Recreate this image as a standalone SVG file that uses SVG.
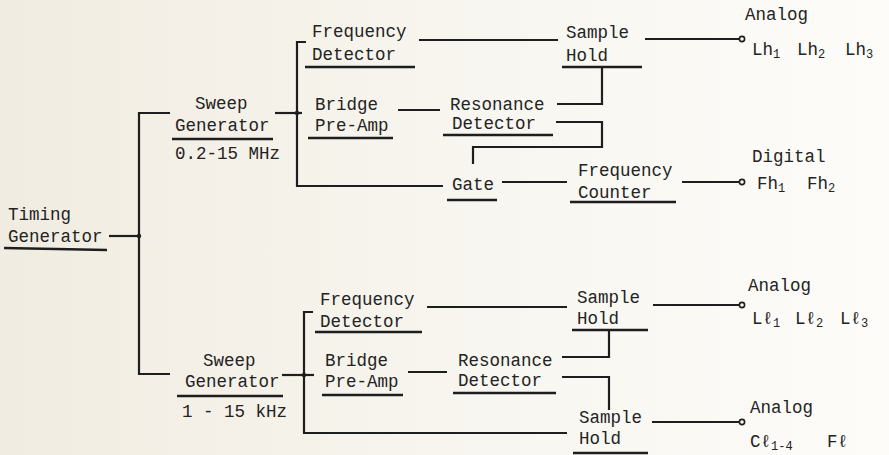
<svg xmlns="http://www.w3.org/2000/svg" width="889" height="455" viewBox="0 0 889 455">
<defs>
<linearGradient id="bg" x1="0" y1="0" x2="1" y2="0">
<stop offset="0" stop-color="#f1ece1"/>
<stop offset="0.55" stop-color="#f8f6f0"/>
<stop offset="1" stop-color="#fdfcf9"/>
</linearGradient>
<style>
text{font-family:"Liberation Mono","DejaVu Sans Mono",monospace;font-size:17.5px;fill:#232323}
.sub{font-size:12px}
.ln{stroke:#1e1e1e;stroke-width:2.2;fill:none;stroke-linecap:butt}
.ul{stroke:#1e1e1e;stroke-width:2.4;fill:none}
.dot{fill:#1e1e1e}
.term{fill:#fbfaf6;stroke:#1e1e1e;stroke-width:1.6}
</style>
</defs>
<rect width="889" height="455" fill="url(#bg)"/>

<g id="connectors">
<path class="ln" d="M109,236 H139"/>
<path class="ln" d="M170,113 H139 V374 H170"/>
<circle class="dot" cx="139" cy="236" r="2.2"/>
<path class="ln" d="M275,113 H302"/>
<path class="ln" d="M306,42 H297 V186 H443"/>
<circle class="dot" cx="297" cy="113" r="2.2"/>
<path class="ln" d="M419,40 H558"/>
<path class="ln" d="M398,110 H440"/>
<path class="ln" d="M557,104 H602 V67"/>
<path class="ln" d="M556,122 H602 V147 H473 V164"/>
<path class="ln" d="M502,182 H567"/>
<path class="ln" d="M645,39 H740"/>
<circle class="term" cx="742" cy="39" r="2.6"/>
<path class="ln" d="M682,182 H740"/>
<circle class="term" cx="742" cy="182" r="2.6"/>
<path class="ln" d="M282,375 H314"/>
<path class="ln" d="M313,312 H304 V433 H567"/>
<circle class="dot" cx="304" cy="375" r="2.2"/>
<path class="ln" d="M427,307 H567"/>
<path class="ln" d="M408,372 H447"/>
<path class="ln" d="M562,357 H609 V330"/>
<path class="ln" d="M562,377 H609 V410"/>
<path class="ln" d="M653,305 H740"/>
<circle class="term" cx="742" cy="305" r="2.6"/>
<path class="ln" d="M652,422 H740"/>
<circle class="term" cx="742" cy="422" r="2.6"/>
</g>

<g id="timing-generator">
<text x="8" y="220">Timing</text>
<text x="8" y="242">Generator</text>
<path class="ul" d="M4,248 L107,250"/>
</g>

<g id="sweep-generator-mhz">
<text x="195" y="109">Sweep</text>
<text x="175" y="131">Generator</text>
<path class="ul" d="M172,139 H273"/>
<text x="175" y="159">0.2-15 MHz</text>
</g>

<g id="frequency-detector-1">
<text x="312" y="37">Frequency</text>
<text x="312" y="60">Detector</text>
<path class="ul" d="M305,67 H415"/>
</g>

<g id="bridge-preamp-1">
<text x="315" y="110">Bridge</text>
<text x="315" y="131">Pre-Amp</text>
<path class="ul" d="M308,138 H393"/>
</g>

<g id="resonance-detector-1">
<text x="450" y="110">Resonance</text>
<text x="452" y="129">Detector</text>
<path class="ul" d="M443,135 H553"/>
</g>

<g id="sample-hold-1">
<text x="566" y="38">Sample</text>
<text x="566" y="61">Hold</text>
<path class="ul" d="M562,67 H642"/>
</g>

<g id="gate">
<text x="452" y="190">Gate</text>
<path class="ul" d="M447,200 H497"/>
</g>

<g id="frequency-counter">
<text x="578" y="176">Frequency</text>
<text x="578" y="198">Counter</text>
<path class="ul" d="M570,202 H676"/>
</g>

<g id="output-lh">
<text x="745" y="20">Analog</text>
<text x="752" y="55">Lh<tspan class="sub" dy="3">1</tspan><tspan x="797" dy="-3">Lh</tspan><tspan class="sub" dy="3">2</tspan><tspan x="845" dy="-3">Lh</tspan><tspan class="sub" dy="3">3</tspan></text>
</g>

<g id="output-fh">
<text x="752" y="162">Digital</text>
<text x="757" y="189">Fh<tspan class="sub" dy="3">1</tspan><tspan x="807" dy="-3">Fh</tspan><tspan class="sub" dy="3">2</tspan></text>
</g>

<g id="sweep-generator-khz">
<text x="203" y="366">Sweep</text>
<text x="185" y="387">Generator</text>
<path class="ul" d="M177,396 H283"/>
<text x="182" y="417">1 - 15 kHz</text>
</g>

<g id="frequency-detector-2">
<text x="320" y="305">Frequency</text>
<text x="320" y="327">Detector</text>
<path class="ul" d="M315,332 H422"/>
</g>

<g id="bridge-preamp-2">
<text x="325" y="366">Bridge</text>
<text x="325" y="387">Pre-Amp</text>
<path class="ul" d="M322,395 H403"/>
</g>

<g id="resonance-detector-2">
<text x="458" y="366">Resonance</text>
<text x="458" y="386">Detector</text>
<path class="ul" d="M453,393 H556"/>
</g>

<g id="sample-hold-2">
<text x="577" y="303">Sample</text>
<text x="577" y="324">Hold</text>
<path class="ul" d="M572,330 H648"/>
</g>

<g id="sample-hold-3">
<text x="579" y="423">Sample</text>
<text x="579" y="444">Hold</text>
<path class="ul" d="M573,453 H648"/>
</g>

<g id="output-ll">
<text x="748" y="291">Analog</text>
<text x="752" y="324">Lℓ<tspan class="sub" dy="3">1</tspan><tspan x="795" dy="-3">Lℓ</tspan><tspan class="sub" dy="3">2</tspan><tspan x="840" dy="-3">Lℓ</tspan><tspan class="sub" dy="3">3</tspan></text>
</g>

<g id="output-cl">
<text x="750" y="413">Analog</text>
<text x="750" y="447">Cℓ<tspan class="sub" dy="3">1-4</tspan><tspan x="827" dy="-3">Fℓ</tspan></text>
</g>
</svg>
